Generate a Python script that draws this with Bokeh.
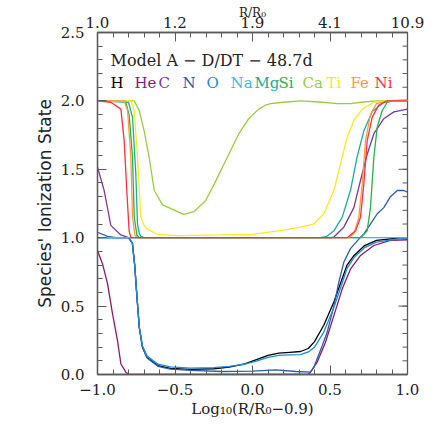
from bokeh.plotting import figure
from bokeh.models import LinearAxis, Range1d, FixedTicker, Label
from bokeh.embed import file_html
from bokeh.resources import INLINE

# ---------------- data ----------------
x_ticks = [-1.0, -0.5, 0.0, 0.5, 1.0]
x_tick_labels = ["\u22121.0", "\u22120.5", "0.0", "0.5", "1.0"]
top_tick_labels = ["1.0", "1.2", "1.9", "4.1", "10.9"]
y_ticks = [0.0, 0.5, 1.0, 1.5, 2.0, 2.5]
y_tick_labels = ["0.0", "0.5", "1.0", "1.5", "2.0", "2.5"]

species = ["H", "He", "C", "N", "O", "Na", "Mg", "Si", "Ca", "Ti", "Fe", "Ni"]

h_x = [-1.0, -0.80, -0.775, -0.76, -0.745, -0.73, -0.71, -0.68, -0.61, -0.53, -0.40, -0.25, -0.15,
       -0.05, 0.03, 0.10, 0.17, 0.24, 0.31, 0.36, 0.40, 0.46, 0.525, 0.57, 0.61, 0.655, 0.72, 0.80, 0.93, 1.0]
h_y = [1.0, 1.0, 0.96, 0.80, 0.56, 0.34, 0.20, 0.125, 0.065, 0.045, 0.037, 0.042, 0.054,
       0.078, 0.11, 0.14, 0.156, 0.162, 0.168, 0.19, 0.24, 0.36, 0.53, 0.675, 0.80, 0.87, 0.94, 0.98, 0.996, 1.0]

o_x = h_x
o_y = [1.0, 1.0, 0.96, 0.80, 0.56, 0.35, 0.21, 0.135, 0.075, 0.055, 0.046, 0.05, 0.06,
       0.075, 0.10, 0.125, 0.14, 0.143, 0.146, 0.165, 0.20, 0.31, 0.49, 0.64, 0.775, 0.855, 0.925, 0.967, 0.99, 1.0]

n_x = [-1.0, -0.935, -0.88, -0.80, -0.775, -0.76, -0.745, -0.73, -0.71, -0.68, -0.61, -0.53, -0.40,
       -0.20, 0.0, 0.15, 0.28, 0.374, 0.395, 0.417, 0.45, 0.482, 0.525, 0.557, 0.589, 0.632, 0.686,
       0.72, 0.761, 0.805, 0.847, 0.89, 0.934, 0.976, 1.0]
n_y = [1.04, 1.01, 1.0, 1.0, 0.96, 0.80, 0.56, 0.34, 0.20, 0.12, 0.06, 0.04, 0.03,
       0.022, 0.025, 0.034, 0.022, 0.017, 0.05, 0.115, 0.21, 0.31, 0.50, 0.675, 0.82, 0.92, 0.99,
       1.03, 1.10, 1.175, 1.22, 1.30, 1.345, 1.345, 1.333]

he_x = [-1.0, -0.968, -0.935, -0.903, -0.871, -0.849, -0.817, -0.796, 0.0, 0.36, 0.374, 0.417,
        0.471, 0.525, 0.579, 0.632, 0.697, 0.783, 0.89, 1.0]
he_y = [0.906, 0.81, 0.663, 0.443, 0.248, 0.077, 0.017, 0.0, 0.0, 0.0, 0.017, 0.09,
        0.236, 0.43, 0.626, 0.77, 0.87, 0.943, 0.98, 0.985]

c_x = [-1.0, -0.957, -0.914, -0.85, -0.80, 0.0, 0.50, 0.525, 0.589, 0.654, 0.697, 0.74, 0.783,
       0.847, 0.912, 1.0]
c_y = [1.515, 1.345, 1.09, 1.02, 1.0, 1.0, 1.0, 1.005, 1.077, 1.22, 1.42, 1.61, 1.76,
       1.87, 1.92, 1.94]

na_x = [-1.0, 0.0, 1.0]
na_y = [1.0, 1.0, 1.0]

mg_x = [-1.0, -0.80, -0.774, -0.753, -0.742, -0.73, -0.72, -0.70, 0.0, 0.439, 0.48, 0.525, 0.579,
        0.632, 0.675, 0.718, 0.772, 0.847, 0.92, 1.0]
mg_y = [2.0, 1.99, 1.88, 1.47, 1.10, 1.03, 1.01, 1.0, 1.0, 1.0, 1.01, 1.05, 1.15,
        1.345, 1.59, 1.78, 1.92, 1.99, 2.0, 2.0]

si_x = [-1.0, -0.82, -0.796, -0.774, -0.763, -0.746, -0.73, 0.0, 0.697, 0.74, 0.761, 0.783, 0.805,
        0.837, 0.87, 0.90, 1.0]
si_y = [2.0, 2.0, 1.9, 1.59, 1.15, 1.02, 1.0, 1.0, 1.0, 1.05, 1.22, 1.59, 1.81,
        1.93, 1.99, 2.0, 2.0]

ca_x = [-1.0, -0.763, -0.731, -0.699, -0.667, -0.634, -0.58, -0.484, -0.443, -0.379, -0.303, -0.239,
        -0.153, -0.088, -0.024, 0.04, 0.084, 0.116, 0.20, 0.31, 0.45, 0.55, 0.632, 0.70, 0.80, 1.0]
ca_y = [2.0, 2.0, 1.93, 1.78, 1.59, 1.345, 1.24, 1.19, 1.17, 1.19, 1.27, 1.41,
        1.61, 1.76, 1.87, 1.94, 1.97, 1.98, 1.99, 2.0, 1.99, 1.98, 1.98, 1.99, 2.0, 2.0]

ti_x = [-1.0, -0.785, -0.763, -0.742, -0.72, -0.70, -0.677, -0.613, -0.484, -0.2, 0.0, 0.2, 0.31,
        0.396, 0.46, 0.525, 0.568, 0.611, 0.654, 0.708, 0.783, 0.85, 1.0]
ti_y = [2.0, 2.0, 1.93, 1.59, 1.15, 1.09, 1.06, 1.025, 1.015, 1.02, 1.025, 1.055, 1.077,
        1.10, 1.175, 1.345, 1.54, 1.735, 1.857, 1.94, 1.99, 2.0, 2.0]

fe_x = [-1.0, -0.828, -0.806, -0.785, -0.774, -0.759, -0.745, 0.0, 0.62, 0.654, 0.686, 0.708,
        0.729, 0.761, 0.80, 0.87, 1.0]
fe_y = [2.0, 2.0, 1.93, 1.59, 1.15, 1.02, 1.0, 1.0, 1.0, 1.03, 1.15, 1.39,
        1.71, 1.9, 1.98, 2.0, 2.01]

ni_x = [-1.0, -0.914, -0.849, -0.828, -0.811, -0.796, -0.785, 0.0, 0.611, 0.665, 0.697, 0.718,
        0.74, 0.772, 0.815, 0.87, 1.0]
ni_y = [2.0, 1.99, 1.94, 1.71, 1.345, 1.05, 1.0, 1.0, 1.0, 1.05, 1.15, 1.39,
        1.71, 1.88, 1.97, 2.0, 2.0]

series_x = [h_x, he_x, c_x, n_x, o_x, na_x, mg_x, si_x, ca_x, ti_x, fe_x, ni_x]
series_y = [h_y, he_y, c_y, n_y, o_y, na_y, mg_y, si_y, ca_y, ti_y, fe_y, ni_y]

title_text = "Model A \u2212 D/DT \u2212 48.7d"
top_axis_title = "R/R\u2080"

# ---------------- style ----------------
colors = ["#000000", "#8b1a6b", "#7a3a9a", "#2a5cb0", "#1e8ad8", "#35bde5",
          "#20ab96", "#28b04a", "#9acd3a", "#ffe820", "#ff9a3c", "#ff3040"]
AX = "#5a5a5a"
SERIF = "DejaVu Serif"
FRAME_W, FRAME_H = 310, 342

p = figure(width=436, height=436, x_range=Range1d(-1, 1), y_range=Range1d(0, 2.5),
           output_backend="svg", toolbar_location=None,
           min_border_left=97, min_border_right=29, min_border_top=32, min_border_bottom=62)
p.xgrid.visible = False
p.ygrid.visible = False
p.outline_line_color = AX
p.outline_line_width = 1.3
p.background_fill_color = "white"
p.border_fill_color = "white"

x_minor = [-1 + 0.1 * i for i in range(21)]
y_minor = [0.1 * i for i in range(26)]
xtick = FixedTicker(ticks=x_ticks, minor_ticks=x_minor)
ytick = FixedTicker(ticks=y_ticks, minor_ticks=y_minor)


def style_axis(ax):
    ax.axis_line_color = AX
    ax.axis_line_width = 1.3
    ax.major_tick_line_color = AX
    ax.minor_tick_line_color = AX
    ax.major_tick_in = 9
    ax.major_tick_out = 0
    ax.minor_tick_in = 5
    ax.minor_tick_out = 0
    ax.major_label_text_font = SERIF
    ax.major_label_text_font_size = "15px"
    ax.major_label_text_color = "#222222"
    ax.axis_label_text_font_style = "normal"
    ax.axis_label_text_color = "#222222"


bx = p.xaxis[0]
bx.ticker = xtick
bx.major_label_overrides = dict(zip(x_ticks, x_tick_labels))
style_axis(bx)
bx.major_label_standoff = 9
bx.axis_label = "Log\u2081\u2080(R/R\u2080\u22120.9)"
bx.axis_label_text_font = SERIF
bx.axis_label_text_font_size = "15px"
bx.axis_label_standoff = 2

ly = p.yaxis[0]
ly.ticker = ytick
ly.major_label_overrides = dict(zip(y_ticks, y_tick_labels))
style_axis(ly)
ly.major_label_standoff = 13
ly.axis_label = "Species' Ionization State"
ly.axis_label_text_font = "DejaVu Sans"
ly.axis_label_text_font_size = "17px"
ly.axis_label_standoff = 3

tx = LinearAxis(ticker=xtick, major_label_overrides=dict(zip(x_ticks, top_tick_labels)))
style_axis(tx)
tx.major_label_standoff = 5
tx.axis_label = top_axis_title
tx.axis_label_text_font = SERIF
tx.axis_label_text_font_size = "12px"
tx.axis_label_standoff = -6
p.add_layout(tx, "above")

# right-hand frame ticks (no labels), drawn from the y tick values
maj_len = 9 * 2.0 / FRAME_W
min_len = 5 * 2.0 / FRAME_W
p.segment(x0=[1.0] * len(y_ticks), y0=y_ticks, x1=[1.0 - maj_len] * len(y_ticks), y1=y_ticks,
          line_color=AX, line_width=1)
p.segment(x0=[1.0] * len(y_minor), y0=y_minor, x1=[1.0 - min_len] * len(y_minor), y1=y_minor,
          line_color=AX, line_width=1)

for xs, ys, col in zip(series_x, series_y, colors):
    p.line(xs, ys, line_color=col, line_width=1.3)


# px offsets inside the frame -> data units
def dx(px):
    return -1 + px * 2.0 / FRAME_W


def dy(px_from_top):
    return 2.5 - px_from_top * 2.5 / FRAME_H


p.add_layout(Label(x=dx(13), y=dy(28), text=title_text, text_font=SERIF,
                   text_font_size="16px", text_color="#222222", text_baseline="middle"))
for i, (name, col) in enumerate(zip(species, colors)):
    p.add_layout(Label(x=dx(13 + 24 * i), y=dy(50), text=name, text_font=SERIF,
                       text_font_size="15px", text_color=col, text_baseline="middle"))

open("out.html", "w").write(file_html(p, INLINE))
